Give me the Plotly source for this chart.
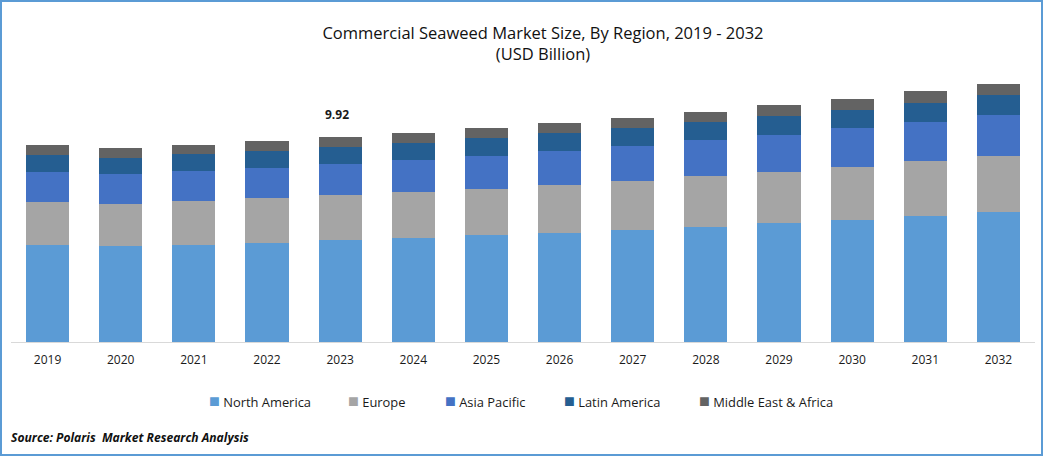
import plotly.graph_objects as go

# values (USD billion)
years = ["2019", "2020", "2021", "2022", "2023", "2024", "2025", "2026", "2027", "2028", "2029", "2030", "2031", "2032"]
north_america = [4.69, 4.65, 4.69, 4.79, 4.94, 5.03, 5.18, 5.27, 5.42, 5.56, 5.76, 5.90, 6.10, 6.29]
europe = [2.08, 2.03, 2.13, 2.18, 2.18, 2.23, 2.23, 2.32, 2.37, 2.47, 2.47, 2.56, 2.66, 2.71]
asia_pacific = [1.45, 1.45, 1.45, 1.45, 1.50, 1.55, 1.60, 1.65, 1.69, 1.74, 1.79, 1.89, 1.89, 1.98]
latin_america = [0.82, 0.77, 0.82, 0.82, 0.82, 0.82, 0.87, 0.87, 0.87, 0.87, 0.92, 0.87, 0.92, 0.97]
middle_east = [0.48, 0.48, 0.44, 0.48, 0.48, 0.48, 0.48, 0.48, 0.48, 0.48, 0.53, 0.53, 0.58, 0.53]

W, H = 1043, 456
FONT = "Open Sans"
TEXT = "#1a1a1a"
ML, MR, MT, MB = 11, 8, 60, 114
plot_w, plot_h = W - ML - MR, H - MT - MB

series = [
    ("North America", north_america, "#5B9BD5"),
    ("Europe", europe, "#A5A5A5"),
    ("Asia Pacific", asia_pacific, "#4472C4"),
    ("Latin America", latin_america, "#255E91"),
    ("Middle East & Africa", middle_east, "#636363"),
]
# left edge of each legend entry, in page pixels
legend_left = [207, 346, 443, 562, 697]

fig = go.Figure()
for name, values, color in series:
    fig.add_trace(go.Bar(x=years, y=values, name=name, showlegend=False, marker=dict(color=color, line_width=0)))

# numeric-looking categories: annotations need the category index here
i_2023 = years.index("2023")
total_2023 = sum(s[1][i_2023] for s in series)
fig.add_annotation(
    x=i_2023, y=total_2023, text="<b>9.92</b>", showarrow=False,
    yanchor="bottom", yshift=12, xshift=-3, font=dict(family=FONT, size=12, color=TEXT),
)
fig.add_annotation(
    xref="paper", yref="paper", x=-2 / plot_w, y=-(437 - 342) / plot_h, xanchor="left", yanchor="middle",
    text="<b><i>Source: Polaris  Market Research Analysis</i></b>", showarrow=False,
    font=dict(family=FONT, size=12.1, color="#111111"),
)

# legend entries drawn as text so the swatches sit tight against the labels
for (name, values, color), left in zip(series, legend_left):
    fig.add_annotation(
        xref="paper", yref="paper", x=(left - ML) / plot_w, y=-(400 - 342) / plot_h,
        xanchor="left", yanchor="middle", showarrow=False,
        text=f'<span style="color:{color};font-size:18px">■</span> {name}',
        font=dict(family=FONT, size=12.9, color=TEXT),
    )

# outer frame of the picture
fig.add_shape(
    type="rect", xref="paper", yref="paper",
    x0=(1 - ML) / plot_w, x1=(W - 1 - ML) / plot_w,
    y0=-(MB - 1) / plot_h, y1=1 + (MT - 1) / plot_h,
    line=dict(color="#5B9BD5", width=2), fillcolor="rgba(0,0,0,0)",
)

fig.update_layout(
    width=W, height=H,
    margin=dict(l=ML, r=MR, t=MT, b=MB),
    barmode="stack", bargap=0.41,
    paper_bgcolor="white", plot_bgcolor="white",
    font=dict(family=FONT, color=TEXT),
    title=dict(
        text="Commercial Seaweed Market Size, By Region, 2019 - 2032<br>(USD Billion)",
        x=543 / W, xanchor="center", y=1 - 39 / H, yanchor="middle",
        font=dict(family=FONT, size=16.5, color="#111111"),
    ),
    xaxis=dict(
        type="category", showline=True, linecolor="#D9D9D9", linewidth=1, ticks="", showgrid=False,
        ticklabelstandoff=7, tickfont=dict(family=FONT, size=12, color=TEXT),
    ),
    yaxis=dict(visible=False, range=[0, plot_h / 20.665]),
)

fig.write_html("out.html", config=dict(displayModeBar=False), post_script="document.body.style.margin='0';")
